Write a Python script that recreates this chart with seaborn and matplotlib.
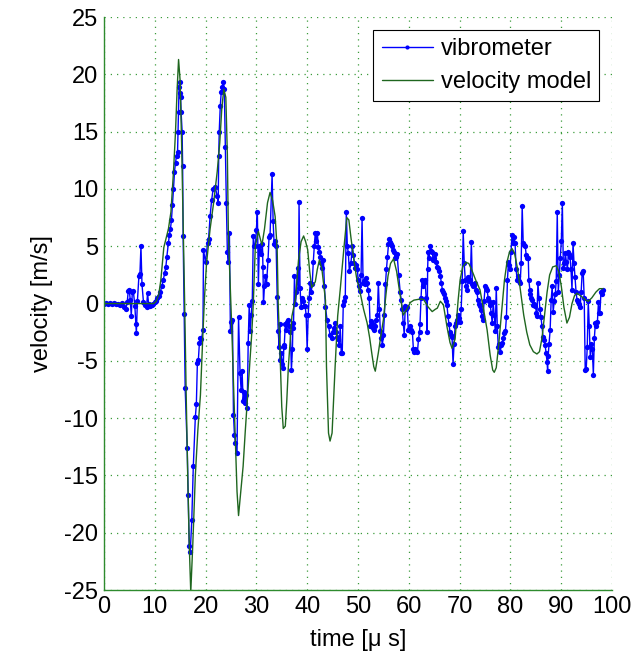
import matplotlib
matplotlib.use("Agg")
import matplotlib.pyplot as plt
import seaborn as sns
import pandas as pd
from matplotlib.ticker import MultipleLocator

sns.set_theme(style="white")
plt.rcParams['font.family'] = ['Liberation Sans', 'DejaVu Sans']
plt.rcParams['axes.unicode_minus'] = False
plt.rcParams['text.color'] = 'black'

# vibrometer measurement: (time [us], velocity [m/s])
vib_pts = [
    (0, 0), (0.4, 0.05), (0.8, -0.05), (1.2, 0.05), (1.6, 0), (2.0, 0.05), (2.4, -0.05), (2.8, 0),
    (3.2, -0.1), (3.6, 0.05), (4.0, -0.3), (4.3, -0.5), (4.6, 0.1), (4.8, 1.1), (5.0, 1.2), (5.2, 0.3),
    (5.4, -1.1), (5.6, 1.0), (5.8, 1.1), (6.1, -0.2), (6.3, -1.8), (6.4, -2.6), (6.6, 0.2), (6.9, 2.4),
    (7.1, 2.6), (7.3, 5.0), (7.5, 1.7), (7.8, 0.1), (8.1, -0.1), (8.4, -0.3), (8.6, 0.9), (8.8, 0),
    (9.1, -0.2), (9.4, -0.1), (9.7, 0), (10.0, 0.1),
    (10.2, 0.2), (10.5, 0.5), (10.8, 0.7), (11.1, 1.0), (11.4, 1.5), (11.7, 2.1), (12.0, 2.7), (12.2, 3.2),
    (12.4, 4.1), (12.7, 5.3), (12.9, 6.0), (13.1, 6.5), (13.3, 7.3), (13.5, 8.6), (13.7, 10.0), (13.9, 11.5),
    (14.1, 12.3), (14.3, 12.9), (14.5, 13.2), (14.6, 15.0), (14.7, 16.7), (14.8, 18.9), (14.9, 19.3),
    (15.0, 18.4), (15.1, 18.0), (15.2, 16.7), (15.4, 15.0), (15.5, 12.0), (15.6, 5.9), (15.8, -0.9),
    (16.0, -7.4), (16.4, -12.6), (16.6, -16.7), (16.8, -21.2), (17.0, -21.7), (17.3, -18.9), (17.6, -14.2),
    (18.0, -9.9), (18.2, -8.8), (18.4, -5.2), (18.6, -4.9), (18.8, -3.4), (19.0, -3.0), (19.2, -3.1),
    (19.5, -2.3), (19.6, 4.7), (20.0, 3.6), (20.4, 5.3), (20.6, 5.6), (20.9, 7.6), (21.2, 9.0), (21.5, 10.0),
    (21.9, 10.2), (22.3, 9.4), (22.5, 8.8), (22.6, 12.9), (22.7, 15.0), (22.9, 17.2), (23.1, 18.5),
    (23.3, 18.9), (23.5, 19.3), (23.7, 18.7), (23.9, 13.7), (24.1, 8.8), (24.3, 4.5),
    (24.5, 3.6), (24.7, 6.2), (24.9, -2.4), (25.1, -1.6), (25.3, -1.4), (25.5, -9.7), (25.7, -11.5),
    (25.9, -12.2), (26.2, -13.0), (26.5, -1.2), (26.8, -6.1), (27.0, -7.5), (27.2, -5.9), (27.4, -8.5),
    (27.6, -7.7), (27.8, -8.7), (28.0, -8.0), (28.2, -9.1), (28.4, -3.4), (28.6, -0.1), (28.8, -2.4), (29.0, -1.0),
    (29.2, 0.2), (29.4, 5.9), (29.6, 5.0), (29.8, 5.0), (30.0, 6.4), (30.2, 8.0), (30.4, 1.7), (30.6, 5.0),
    (30.8, 4.6), (31.0, 4.3), (31.2, 5.2), (31.3, 3.2), (31.4, 0.1), (31.6, 1.5), (31.8, 2.4), (32.0, 1.7),
    (32.3, 3.8), (32.5, 5.8), (32.7, 6.0), (33.1, 11.3), (33.3, 7.2), (33.5, 5.2), (33.7, 5.5), (33.9, 5.0),
    (34.1, 0.6), (34.3, -2.4), (34.5, -3.8), (34.6, -1.8), (34.7, -4.9), (34.9, -4.3), (35.1, -5.3),
    (35.3, -5.6), (35.4, -3.8), (35.5, -3.6), (35.7, -1.8), (35.9, -2.3), (36.1, -1.6), (36.3, -1.4),
    (36.5, -2.0), (36.7, -2.5), (36.9, -5.8), (37.1, -4.0), (37.2, -1.7), (37.3, -2.1), (37.5, 2.4),
    (37.7, 0.0), (37.9, 1.0), (38.1, 3.1), (38.3, 1.4), (38.4, 8.9), (38.6, 1.4), (38.8, -0.3), (39.0, 0.5),
    (39.2, 0.2), (39.4, -0.2), (39.6, -0.2), (39.8, -1.0), (40.0, -4.0), (40.2, -1.0), (40.4, 0.5),
    (40.6, 1.8), (40.8, 1.0), (41.0, 1.7), (41.2, 3.6), (41.4, 5.0), (41.6, 6.2), (41.8, 5.5), (42.0, 6.2),
    (42.2, 4.9), (42.4, 4.5), (42.6, 4.1), (42.8, 3.5), (43.0, 3.1), (43.2, 3.8), (43.4, 1.5), (43.6, -0.3),
    (43.9, -1.4), (44.2, -2.0), (44.5, -2.7), (44.8, -3.0), (45.1, -2.5), (45.3, -2.1), (45.5, -1.7),
    (45.7, -2.5), (45.9, -2.9), (46.1, -3.1), (46.3, -3.6), (46.5, -2.0), (46.7, -4.3), (46.9, -4.3),
    (47.1, -0.1), (47.3, 0.2), (47.5, 0.6), (47.7, 8.0),
    (47.9, 5.0), (48.1, 4.4), (48.3, 2.8), (48.6, 3.5), (48.9, 5.0), (49.1, 4.2), (49.3, 3.5), (49.5, 3.1),
    (49.7, 3.4), (49.9, 3.0), (50.0, 2.1), (50.2, 1.5), (50.4, 1.1), (50.6, 2.5), (50.8, 7.5), (51.0, 1.8),
    (51.2, 2.0), (51.4, 1.7), (51.6, 2.2), (51.8, 1.8), (52.0, 1.2), (52.2, 0.5), (52.4, -2.0), (52.6, -1.5),
    (52.8, -1.7), (53.0, -2.1), (53.2, -2.3), (53.4, -2.0), (53.6, -1.4), (53.8, -1.0), (54.0, 1.8),
    (54.2, -0.5), (54.4, -2.4), (54.6, -3.0), (54.8, -3.6), (55.0, -2.7), (55.2, -1.0), (55.4, 1.7),
    (55.6, 3.0), (55.8, 4.1), (56.0, 5.2), (56.1, 5.6), (56.3, 5.4), (56.5, 5.2), (56.7, 5.0), (56.9, 4.7),
    (57.1, 4.5), (57.3, 4.0), (57.5, 4.1), (57.7, 4.3), (58.0, 2.5), (58.3, 1.0), (58.5, 0.3), (58.7, -0.5),
    (58.9, -1.7), (59.1, -2.7), (59.3, -0.2), (59.5, -0.5), (59.7, -0.3), (59.9, -2.3), (60.1, -2.2),
    (60.3, -2.0), (60.5, -2.3), (60.7, -2.5), (60.9, -4.0), (61.1, -4.2), (61.3, -4.0), (61.5, -4.1),
    (61.7, -4.2), (61.9, -3.1), (62.1, -2.5), (62.2, -1.8), (62.4, 0.5), (62.6, 2.1), (62.8, 1.5),
    (63.0, 1.8), (63.2, 2.1), (63.4, 0.5), (63.6, -2.5), (63.7, 3.0), (63.8, 4.5), (64.0, 4.0), (64.2, 5.0),
    (64.4, 4.6), (64.6, 4.5), (64.8, 3.8), (65.0, 4.0), (65.2, 4.3), (65.4, 3.6), (65.6, 3.2), (65.8, 3.1),
    (66.0, 2.8), (66.2, 2.4), (66.4, 1.8), (66.6, 1.2), (66.8, 1.0), (67.0, 0.8), (67.1, 0.5), (67.3, 0.2),
    (67.5, -0.1), (67.7, -1.1), (67.9, -1.8), (68.1, -2.5), (68.3, -2.7), (68.5, -2.9), (68.7, -5.3),
    (68.9, -3.5), (69.1, -2.0), (69.3, -1.7), (69.5, -1.4), (69.7, -1.0), (69.9, -1.3), (70.1, -1.6),
    (70.3, -0.5), (70.5, 2.0), (70.7, 6.3), (70.9, 3.5), (71.1, 2.1), (71.3, 1.5), (71.5, 1.2), (71.7, 2.3),
    (71.9, 2.0), (72.1, 2.1), (72.3, 5.4), (72.5, 1.7), (72.7, 1.5),
    (72.9, 1.6), (73.1, 1.8), (73.3, 1.2), (73.4, 1.0), (73.6, 0.3), (73.8, 0.0), (74.0, -0.2), (74.2, -0.6),
    (74.4, -1.1), (74.6, -1.4), (74.8, 0.2), (75.0, 1.5), (75.2, 1.4), (75.4, 1.2), (75.6, 0.5), (75.8, 0.2),
    (76.0, -0.1), (76.2, -0.8), (76.4, -1.7), (76.6, 0.1), (76.8, -1.0), (77.0, -2.4), (77.2, 1.4),
    (77.4, -2.0), (77.6, -3.8), (77.8, -3.5), (78.0, -4.2), (78.2, -3.6), (78.4, -3.4), (78.6, -3.0),
    (78.8, -2.6), (79.0, -2.4), (79.2, -1.2), (79.4, 2.1), (79.6, 3.6), (79.8, 3.4), (79.9, 3.0), (80.1, 4.5),
    (80.3, 6.0), (80.5, 5.3), (80.7, 5.8), (80.9, 5.3), (81.1, 3.0), (81.3, 2.1), (81.5, 2.4), (81.7, 2.0),
    (81.9, 1.8), (82.1, 3.5), (82.3, 8.5), (82.5, 5.3), (82.7, 5.1), (82.9, 5.0), (83.1, 4.2), (83.3, 4.0),
    (83.5, 4.0), (83.6, 2.1), (83.8, 1.2), (83.9, 0.8), (84.1, 0.5), (84.3, 0.3), (84.5, -0.1), (84.7, 0.0),
    (84.9, -0.2), (85.1, -0.8), (85.2, -1.1), (85.4, 1.8), (85.6, 0.5), (85.8, -0.5), (86.0, -1.2),
    (86.2, -2.0), (86.4, -2.9), (86.6, -3.2), (86.8, -3.6), (87.0, -4.3), (87.2, -5.1), (87.3, -5.9),
    (87.4, -4.6), (87.6, -3.5), (87.8, -2.3), (88.0, 0.3), (88.2, 1.5), (88.4, -0.7), (88.6, 0.2), (88.8, 0.8),
    (89.0, 2.0), (89.2, 8.0), (89.4, 1.0), (89.6, 2.5), (89.8, 4.0), (90.0, 5.5), (90.2, 8.8), (90.4, 3.1),
    (90.6, 3.5), (90.8, 4.4), (91.0, 3.6), (91.2, 3.0), (91.4, 4.5), (91.6, 4.3), (91.7, 4.1), (91.9, 3.0),
    (92.1, 1.2), (92.3, 5.3), (92.5, 3.5), (92.7, 2.3), (92.9, 1.0), (93.1, 0.3), (93.3, 0.1), (93.5, 0.0),
    (93.7, -0.3), (93.9, 1.0), (94.1, 2.7), (94.3, 2.8), (94.5, 0.5), (94.7, -5.8), (94.9, -5.7),
    (95.1, -3.8), (95.3, 0.2), (95.5, -2.0), (95.7, -4.7), (95.9, -3.5), (96.1, -4.0), (96.3, -6.2),
    (96.5, -3.0), (96.7, -1.7), (96.9, -2.0), (97.1, -1.6), (97.3, 0.1), (97.5, -0.8), (97.6, -0.8),
    (97.8, 1.0), (98.0, 0.8), (98.2, 1.2),
]

# velocity model: (time [us], velocity [m/s])
model_pts = [
    (0, 0), (5, 0), (9.8, 0), (10.3, 0.2), (10.8, 0.8), (11.2, 2.0), (11.5, 3.5), (11.8, 4.9),
    (12.2, 5.6), (12.7, 6.5), (13.2, 8.0), (13.7, 11.5), (14.1, 15.0), (14.4, 18.5), (14.7, 21.3),
    (15.0, 19.5), (15.3, 14.0), (15.6, 7.0), (15.9, 0.0), (16.2, -8.0), (16.5, -15.0), (16.8, -21.0),
    (17.1, -25.2), (17.5, -21.0), (18.0, -15.0), (18.5, -11.0), (19.0, -8.0), (19.5, -2.5), (19.8, 0.5),
    (20.2, 3.5), (20.9, 6.5), (21.6, 8.8), (22.3, 11.5), (22.8, 14.0), (23.2, 17.0), (23.6, 18.7),
    (24.0, 18.0), (24.3, 13.0), (24.5, 6.0), (25.2, -2.6), (25.5, -6.9), (25.9, -12.2), (26.2, -16.4),
    (26.5, -18.5), (26.8, -17.1), (27.4, -14.2), (27.8, -11.3), (28.5, -6.6), (29.1, -2.6), (29.4, 0.0),
    (29.8, 5.0), (30.4, 6.3), (30.8, 5.6), (31.1, 5.1), (31.6, 6.5), (32.2, 8.8), (32.7, 9.7),
    (33.2, 9.0), (33.7, 7.6), (34.1, 4.7), (34.3, 0.0), (34.7, -4.9), (35.0, -9.0), (35.3, -10.9),
    (35.7, -10.7), (36.0, -8.4), (36.3, -5.5), (37.0, -1.1), (37.7, 0.4), (38.3, 3.8), (38.8, 5.4),
    (39.3, 5.9), (39.7, 5.4), (40.1, 4.7), (40.5, 2.8), (40.9, 1.4), (41.6, 1.9), (42.0, 3.0),
    (42.4, 3.8), (42.9, 3.0), (43.3, 1.5), (43.6, 0.3), (43.8, -5.5), (44.2, -11.3), (44.5, -12.0),
    (44.9, -11.3), (45.2, -8.4), (45.5, -5.5), (46.0, -1.1), (46.5, 1.2), (47.2, 4.7), (47.8, 7.5),
    (48.2, 7.3), (48.6, 5.8), (49.1, 4.1), (49.7, 2.3), (50.4, 1.0), (51.1, -0.5), (51.8, -1.7),
    (52.3, -3.0), (52.7, -4.3), (53.1, -5.5), (53.4, -5.9), (54.0, -4.3), (54.5, -2.8), (55.0, -1.4),
    (55.5, 0.8), (55.9, 2.4), (56.4, 3.5), (57.0, 3.9), (57.6, 2.8), (58.2, 1.0), (58.9, -1.0),
    (59.6, -0.5), (60.3, 0.1), (61.0, 0.3), (61.7, 0.35), (62.3, 0.4), (62.9, 0.35), (63.4, 0.0),
    (63.8, -0.3), (64.6, -0.7), (65.2, -0.5), (65.6, -0.4), (66.2, 0.2), (66.8, -0.1), (67.5, -2.0),
    (68.1, -3.4), (68.5, -3.9), (69.1, -3.1), (69.7, 0.3), (70.1, 2.1), (70.6, 3.2), (71.2, 3.6),
    (71.8, 3.5), (72.5, 2.8), (73.2, 2.0), (74.0, 1.2), (74.7, -0.5), (75.4, -2.3), (76.0, -4.5),
    (76.5, -5.8), (76.8, -6.0), (77.2, -5.6), (77.7, -3.5), (78.3, -0.5), (78.8, 2.0), (79.3, 3.6),
    (79.8, 4.5), (80.3, 4.8), (80.8, 4.4), (81.4, 3.0), (82.0, 1.0), (82.6, -1.0), (83.2, -2.5),
    (83.8, -3.6), (84.5, -4.2), (85.2, -4.4), (85.7, -4.2), (86.2, -3.0), (86.7, -1.0), (87.2, 1.0),
    (87.7, 2.5), (88.3, 3.2), (89.0, 3.3), (89.5, 2.8), (90.0, 1.5), (90.5, -0.3), (91.1, -1.7),
    (91.6, -1.2), (92.1, 0.0), (92.6, 0.7), (93.1, 0.9), (93.7, 0.7), (94.3, 0.5), (94.8, 0.3),
    (95.3, 0.2), (96.0, 0.5), (96.8, 1.0), (97.5, 1.3), (98.2, 1.3),
]

x_ticks = [0, 10, 20, 30, 40, 50, 60, 70, 80, 90, 100]
y_ticks = [-25, -20, -15, -10, -5, 0, 5, 10, 15, 20, 25]

vib = pd.DataFrame(vib_pts, columns=["t", "v"])
model = pd.DataFrame(model_pts, columns=["t", "v"])

green = '#2e8b2e'
fs = 17
fig = plt.figure(figsize=(6.41, 6.58), dpi=100)
ax = fig.add_axes([0.162, 0.1033, 0.793, 0.8707])

sns.lineplot(data=vib, x="t", y="v", ax=ax, estimator=None, sort=False,
             color='#0000ff', linewidth=1.0, marker='o', markersize=3.8,
             markeredgewidth=0, label='vibrometer')
sns.lineplot(data=model, x="t", y="v", ax=ax, estimator=None, sort=False,
             color='#1f661f', linewidth=1.0, label='velocity model')

ax.set_xlim(0, 100)
ax.set_ylim(-25, 25)
ax.set_xticks(x_ticks)
ax.set_yticks(y_ticks)
ax.xaxis.set_minor_locator(MultipleLocator(5))
ax.grid(True, which='major', color='#3c9c3c', linestyle=(0, (1, 4)), linewidth=0.9)
ax.tick_params(axis='both', which='major', direction='in', color=green, length=4,
               width=0.8, labelsize=fs, labelcolor='black', pad=4)
ax.tick_params(axis='x', which='minor', direction='in', color=green, length=2.5, width=0.8)
for s in ['top', 'right']:
    ax.spines[s].set_visible(False)
for s in ['left', 'bottom']:
    ax.spines[s].set_color(green)
    ax.spines[s].set_linewidth(1.0)

ax.set_xlabel('time [μ s]', fontsize=fs, color='black', labelpad=8)
ax.set_ylabel('velocity [m/s]', fontsize=fs, color='black', labelpad=8)

leg = ax.legend(loc='upper right', fontsize=fs, frameon=True, fancybox=False,
                framealpha=1, edgecolor='black', borderaxespad=0.55,
                handlelength=2.2, handletextpad=0.3, borderpad=0.35, labelspacing=0.45)
leg.get_frame().set_linewidth(0.8)
for h in leg.legend_handles:
    h.set_markersize(3)

fig.savefig('out.png', dpi=100)
